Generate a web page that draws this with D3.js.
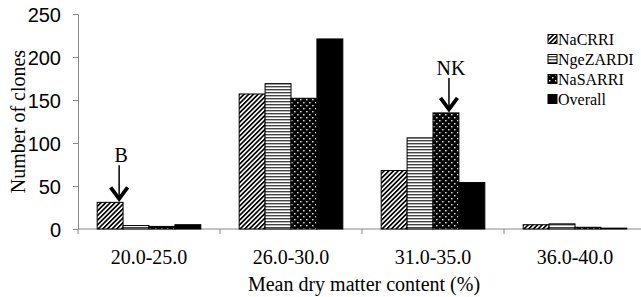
<!DOCTYPE html>
<html>
<head>
<meta charset="utf-8">
<script src="https://cdn.jsdelivr.net/npm/d3@7"></script>
<style>
  body { margin: 0; background: #fff; }
  svg { font-family: "Liberation Serif", "Times New Roman", serif; }
  .axis path, .axis line { stroke: #888; }
  .axis text { fill: #000; font-size: 20px; }
</style>
</head>
<body>
<svg width="641" height="297"></svg>
<script>
// Data
const categories = ["20.0-25.0", "26.0-30.0", "31.0-35.0", "36.0-40.0"];
const seriesNames = ["NaCRRI", "NgeZARDI", "NaSARRI", "Overall"];
const naCRRI = [31, 157, 68, 5];
const ngeZARDI = [4, 169, 106, 6];
const naSARRI = [3, 152, 135, 2];
const overall = [5, 221, 54, 1];
const yTicks = [0, 50, 100, 150, 200, 250];

const values = [naCRRI, ngeZARDI, naSARRI, overall];
const fills = ["url(#diag)", "url(#horiz)", "url(#dots)", "#000"];

const svg = d3.select("svg");
const margin = { top: 14, right: -5, bottom: 68, left: 78 };
const width = +svg.attr("width") - margin.left - margin.right;
const height = +svg.attr("height") - margin.top - margin.bottom;

// Patterns
const defs = svg.append("defs");
const diag = defs.append("pattern").attr("id", "diag")
  .attr("patternUnits", "userSpaceOnUse").attr("width", 3.3).attr("height", 3.3)
  .attr("patternTransform", "rotate(45)");
diag.append("rect").attr("width", 3.3).attr("height", 3.3).attr("fill", "#fff");
diag.append("rect").attr("width", 1.7).attr("height", 3.3).attr("fill", "#000");

const horiz = defs.append("pattern").attr("id", "horiz")
  .attr("patternUnits", "userSpaceOnUse").attr("width", 4).attr("height", 3);
horiz.append("rect").attr("width", 4).attr("height", 3).attr("fill", "#fff");
horiz.append("rect").attr("width", 4).attr("height", 1.4).attr("fill", "#444");

const dots = defs.append("pattern").attr("id", "dots")
  .attr("patternUnits", "userSpaceOnUse").attr("width", 6).attr("height", 6);
dots.append("rect").attr("width", 6).attr("height", 6).attr("fill", "#000");
dots.append("rect").attr("x", 1).attr("y", 1).attr("width", 1.4).attr("height", 1.4).attr("fill", "#fff");
dots.append("rect").attr("x", 4).attr("y", 4).attr("width", 1.4).attr("height", 1.4).attr("fill", "#fff");

const g = svg.append("g").attr("transform", `translate(${margin.left}, ${margin.top})`);

// Scales
const x0 = d3.scaleBand().domain(categories).range([0, width]).paddingInner(0).paddingOuter(0);
const x1 = d3.scaleBand().domain(seriesNames).range([0, x0.bandwidth() * 0.73]);
const groupOffset = (x0.bandwidth() - x1.range()[1]) / 2;
const y = d3.scaleLinear().domain([0, 250]).range([height, 0]);

// Y axis
g.append("g")
  .attr("class", "axis")
  .call(d3.axisLeft(y).tickValues(yTicks).tickSize(5).tickPadding(12).tickSizeOuter(0))
  .call(a => a.selectAll("text").attr("dy", "0.35em"));

// X axis (ticks at category boundaries)
const xa = g.append("g")
  .attr("class", "axis")
  .attr("transform", `translate(0, ${height})`);
xa.append("line").attr("x1", 0).attr("x2", width).attr("y1", 0).attr("y2", 0);
xa.selectAll(".bound")
  .data(d3.range(categories.length + 1))
  .join("line")
  .attr("x1", i => i * x0.step()).attr("x2", i => i * x0.step())
  .attr("y1", 0).attr("y2", 5);
xa.selectAll(".lab")
  .data(categories)
  .join("text")
  .attr("text-anchor", "middle")
  .attr("x", d => x0(d) + x0.bandwidth() / 2)
  .attr("y", 35)
  .text(d => d);

// Bars
const groups = g.selectAll(".grp")
  .data(categories)
  .join("g")
  .attr("transform", d => `translate(${x0(d) + groupOffset}, 0)`);

groups.selectAll("rect")
  .data((d, ci) => seriesNames.map((s, si) => ({ s, si, v: values[si][ci] })))
  .join("rect")
  .attr("x", d => x1(d.s))
  .attr("y", d => y(d.v))
  .attr("width", x1.bandwidth())
  .attr("height", d => height - y(d.v))
  .attr("fill", d => fills[d.si])
  .attr("stroke", "#000")
  .attr("stroke-width", 1);

// Axis titles
g.append("text")
  .attr("text-anchor", "middle")
  .attr("font-size", 20)
  .attr("transform", `translate(${-53}, ${height / 2})rotate(-90)`)
  .text("Number of clones");

g.append("text")
  .attr("text-anchor", "middle")
  .attr("font-size", 20)
  .attr("x", width / 2 + 2)
  .attr("y", height + 62)
  .text("Mean dry matter content (%)");

// Annotations with arrows
const notes = [
  { label: "B", cat: 0, series: 0, dx: 9, top: 38 },
  { label: "NK", cat: 2, series: 2, dx: 3, top: 36 }
];
notes.forEach(n => {
  const cx = x0(categories[n.cat]) + groupOffset + x1(seriesNames[n.series]) + x1.bandwidth() / 2 + n.dx;
  const tip = y(values[n.series][n.cat]) - 2;
  const a = g.append("g");
  a.append("text")
    .attr("x", cx + 2)
    .attr("y", tip - n.top)
    .attr("text-anchor", "middle")
    .attr("font-size", 20)
    .text(n.label);
  a.append("line")
    .attr("x1", cx).attr("x2", cx)
    .attr("y1", tip - n.top + 3).attr("y2", tip - 1)
    .attr("stroke", "#000").attr("stroke-width", 1.5);
  a.append("path")
    .attr("d", `M${cx - 8.5},${tip - 13} L${cx},${tip - 1.5} L${cx + 8.5},${tip - 13}`)
    .attr("fill", "none").attr("stroke", "#000").attr("stroke-width", 3.8);
});

// Legend
const legend = svg.append("g").attr("transform", "translate(548, 39)");
const li = legend.selectAll("g")
  .data(seriesNames)
  .join("g")
  .attr("transform", (d, i) => `translate(0, ${i * 20})`);
li.append("rect")
  .attr("x", 0).attr("y", -4.5)
  .attr("width", 9).attr("height", 9)
  .attr("fill", (d, i) => fills[i])
  .attr("stroke", "#000");
li.append("text")
  .attr("x", 10)
  .attr("dy", "0.35em")
  .attr("font-size", 16)
  .text(d => d);
</script>
</body>
</html>
